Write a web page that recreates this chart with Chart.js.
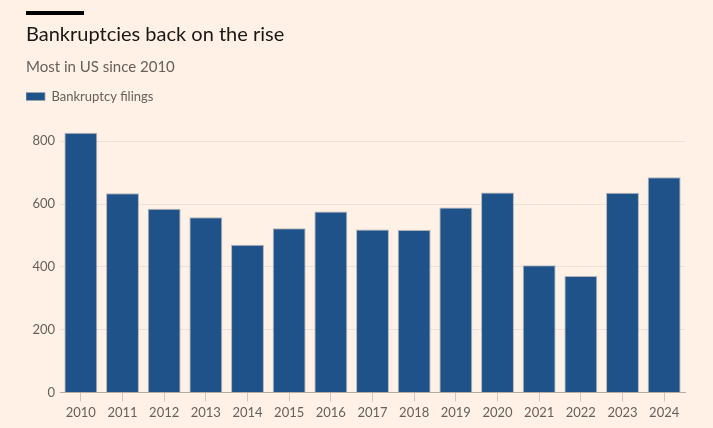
<!DOCTYPE html>
<html>
<head>
<meta charset="utf-8">
<script src="https://cdn.jsdelivr.net/npm/chart.js@4/dist/chart.umd.min.js"></script>
<style>
  html, body { margin: 0; padding: 0; background: #FFF1E5; }
  #wrap { width: 713px; height: 428px; position: relative; }
</style>
</head>
<body>
<div id="wrap"><canvas id="c" width="713" height="428"></canvas></div>
<script>
const categories = ['2010','2011','2012','2013','2014','2015','2016','2017','2018','2019','2020','2021','2022','2023','2024'];
const filings = [827, 634, 585, 558, 470, 523, 576, 519, 517, 589, 637, 405, 371, 636, 685];
const yTicks = [0, 200, 400, 600, 800];
const seriesName = 'Bankruptcy filings';
const titleText = 'Bankruptcies back on the rise';
const subtitleText = 'Most in US since 2010';

const FONT = 'Lato, "Noto Sans", sans-serif';

const topRule = {
  id: 'topRule',
  afterDraw(chart) {
    const ctx = chart.ctx;
    ctx.save();
    ctx.fillStyle = '#000000';
    ctx.fillRect(26, 11, 58, 4);
    ctx.restore();
  }
};

new Chart(document.getElementById('c'), {
  type: 'bar',
  data: {
    labels: categories,
    datasets: [{
      label: seriesName,
      data: filings,
      backgroundColor: '#1f5289',
      borderColor: 'rgba(160,165,175,0.8)',
      borderWidth: 1,
      barPercentage: 0.79,
      categoryPercentage: 1.0
    }]
  },
  options: {
    responsive: false,
    animation: false,
    layout: { padding: { left: 26, right: 28, top: 0, bottom: 3 } },
    plugins: {
      tooltip: { enabled: false },
      title: {
        display: true,
        text: titleText,
        align: 'start',
        color: '#1a1817',
        font: { family: FONT, size: 20, weight: 'normal' },
        padding: { top: 23, bottom: 0 }
      },
      subtitle: {
        display: true,
        text: subtitleText,
        align: 'start',
        color: '#66605c',
        font: { family: FONT, size: 15, weight: 'normal' },
        padding: { top: 11, bottom: 14 }
      },
      legend: {
        display: true,
        position: 'top',
        align: 'start',
        labels: {
          boxWidth: 19,
          boxHeight: 8,
          padding: 0,
          color: '#66605c',
          font: { family: FONT, size: 13 }
        }
      }
    },
    scales: {
      x: {
        grid: {
          offset: false,
          drawOnChartArea: false,
          drawTicks: true,
          tickLength: 9,
          color: '#cfc6bd'
        },
        border: { display: true, color: '#b3aba4', width: 1 },
        ticks: {
          color: '#66605c',
          padding: 4,
          maxRotation: 0,
          autoSkip: false,
          font: { family: FONT, size: 13 }
        }
      },
      y: {
        min: 0,
        max: 890,
        afterBuildTicks(scale) { scale.ticks = yTicks.map(v => ({ value: v })); },
        afterFit(scale) { scale.width = 34; },
        grid: {
          drawTicks: false,
          color: '#ebe1d8',
          lineWidth: 1
        },
        border: { display: false },
        ticks: {
          color: '#66605c',
          padding: 5,
          font: { family: FONT, size: 13 }
        }
      }
    }
  },
  plugins: [topRule]
});
</script>
</body>
</html>
